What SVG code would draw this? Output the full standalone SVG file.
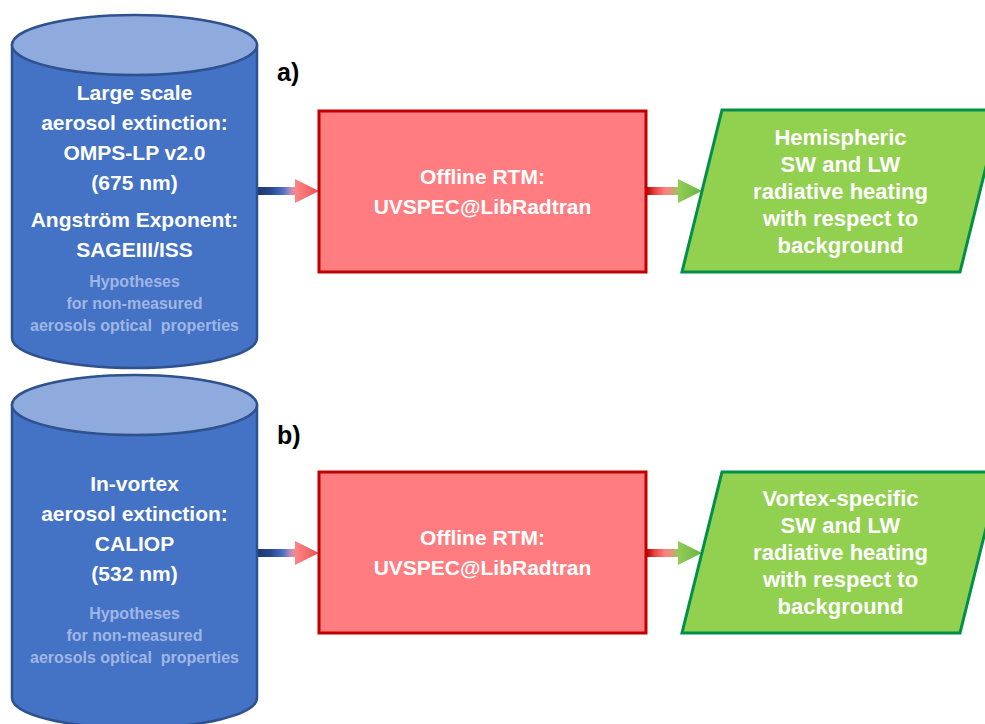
<svg xmlns="http://www.w3.org/2000/svg" width="985" height="724" viewBox="0 0 985 724">
<defs>
<style>
.cylBody{fill:#4472C4;stroke:#2F528F;stroke-width:2.5}
.cylTop{fill:#8FAADC;stroke:#2F528F;stroke-width:2.5}
.box{fill:#FF7C80;stroke:#C00000;stroke-width:3}
.para{fill:#92D050;stroke:#00904A;stroke-width:3}
.t{font-family:"Liberation Sans",Arial,sans-serif;font-weight:bold;text-anchor:middle;fill:#FFFFFF}
.big{font-size:21px}
.small{font-size:16px;fill:#A0B6E4}
.out{font-size:22px}
.lbl{font-family:"Liberation Sans",Arial,sans-serif;font-weight:bold;font-size:25px;fill:#000000}
</style>
<linearGradient id="gBR" x1="0" y1="0" x2="1" y2="0">
<stop offset="0" stop-color="#1C3670"/>
<stop offset="0.22" stop-color="#28478C"/>
<stop offset="0.42" stop-color="#4A70C6"/>
<stop offset="0.55" stop-color="#C090B8"/>
<stop offset="0.63" stop-color="#FF8484"/>
<stop offset="1" stop-color="#E85252"/>
</linearGradient>
<linearGradient id="gRG" x1="0" y1="0" x2="1" y2="0">
<stop offset="0" stop-color="#C00000"/>
<stop offset="0.15" stop-color="#E84848"/>
<stop offset="0.33" stop-color="#FF8080"/>
<stop offset="0.47" stop-color="#D0A070"/>
<stop offset="0.58" stop-color="#92CC56"/>
<stop offset="1" stop-color="#68B444"/>
</linearGradient>
</defs>

<g id="connectors">
<polygon fill="url(#gBR)" points="257,187 295,187 295,179 319,191 295,203 295,195 257,195"/>
<polygon fill="url(#gRG)" points="647,187 678,187 678,179 702,191 678,203 678,195 647,195"/>
<polygon fill="url(#gBR)" points="257,549 295,549 295,541 319,553 295,565 295,557 257,557"/>
<polygon fill="url(#gRG)" points="647,549 678,549 678,541 702,553 678,565 678,557 647,557"/>
</g>

<g id="cylinder-a">
<path class="cylBody" d="M12,45 L12,338 A122.5,30 0 0 0 257,338 L257,45 Z"/>
<ellipse class="cylTop" cx="134.5" cy="45" rx="122.5" ry="30"/>
<text class="t big" x="134.5" y="100">Large scale</text>
<text class="t big" x="134.5" y="130">aerosol extinction:</text>
<text class="t big" x="134.5" y="160">OMPS-LP v2.0</text>
<text class="t big" x="134.5" y="190">(675 nm)</text>
<text class="t big" x="134.5" y="227">Angström Exponent:</text>
<text class="t big" x="134.5" y="257">SAGEIII/ISS</text>
<text class="t small" x="134.5" y="287">Hypotheses</text>
<text class="t small" x="134.5" y="309">for non-measured</text>
<text class="t small" x="134.5" y="331" xml:space="preserve">aerosols optical  properties</text>
</g>

<g id="label-a"><text class="lbl" x="277" y="81">a)</text></g>

<g id="rtm-a">
<rect class="box" x="319" y="111" width="327" height="161"/>
<text class="t big" x="482.5" y="184">Offline RTM:</text>
<text class="t big" x="482.5" y="214">UVSPEC@LibRadtran</text>
</g>

<g id="output-a">
<polygon class="para" points="722,110 1000,110 960,272 682,272"/>
<text class="t out" x="840.5" y="145">Hemispheric</text>
<text class="t out" x="840.5" y="172">SW and LW</text>
<text class="t out" x="840.5" y="199">radiative heating</text>
<text class="t out" x="840.5" y="226">with respect to</text>
<text class="t out" x="840.5" y="253">background</text>
</g>

<g id="cylinder-b">
<path class="cylBody" d="M12,405 L12,698 A122.5,30 0 0 0 257,698 L257,405 Z"/>
<ellipse class="cylTop" cx="134.5" cy="405" rx="122.5" ry="30"/>
<text class="t big" x="134.5" y="491">In-vortex</text>
<text class="t big" x="134.5" y="521">aerosol extinction:</text>
<text class="t big" x="134.5" y="551">CALIOP</text>
<text class="t big" x="134.5" y="581">(532 nm)</text>
<text class="t small" x="134.5" y="619">Hypotheses</text>
<text class="t small" x="134.5" y="641">for non-measured</text>
<text class="t small" x="134.5" y="663" xml:space="preserve">aerosols optical  properties</text>
</g>

<g id="label-b"><text class="lbl" x="277" y="444">b)</text></g>

<g id="rtm-b">
<rect class="box" x="319" y="472" width="327" height="161"/>
<text class="t big" x="482.5" y="545">Offline RTM:</text>
<text class="t big" x="482.5" y="575">UVSPEC@LibRadtran</text>
</g>

<g id="output-b">
<polygon class="para" points="722,472 1000,472 960,633 682,633"/>
<text class="t out" x="840.5" y="506">Vortex-specific</text>
<text class="t out" x="840.5" y="533">SW and LW</text>
<text class="t out" x="840.5" y="560">radiative heating</text>
<text class="t out" x="840.5" y="587">with respect to</text>
<text class="t out" x="840.5" y="614">background</text>
</g>
</svg>
